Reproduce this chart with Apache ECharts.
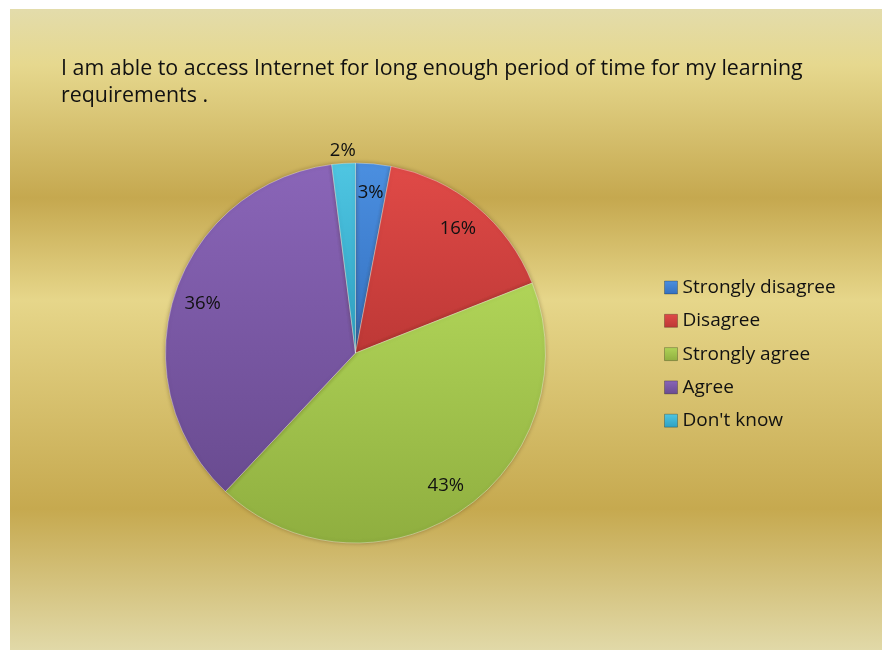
<!DOCTYPE html>
<html>
<head>
<meta charset="utf-8">
<script src="https://cdn.jsdelivr.net/npm/echarts@6/dist/echarts.min.js"></script>
<style>
  html, body { margin: 0; padding: 0; background: #ffffff; }
  #chart {
    position: absolute; left: 10px; top: 9px; width: 872px; height: 641px;
    background: linear-gradient(to bottom,
      #e3dcab 0%, #e6d88e 8.7%, #c5a84f 29.5%, #e6d68a 45.4%,
      #c6a94f 78%, #e1d9a8 100%);
  }
</style>
</head>
<body>
<div id="chart"></div>
<script>
// Survey answers and their shares (percent)
const categories = ['Strongly disagree', 'Disagree', 'Strongly agree', 'Agree', "Don't know"];
const shares = [3, 16, 43, 36, 2];
const titleText = 'I am able to access Internet for long enough period of time for my learning\nrequirements .';

// Office-style palette: light top / darker bottom for each slice
const topColors = ['#4b8fe0', '#e04a47', '#b0d458', '#8a65b8', '#4fc6e2'];
const bottomColors = ['#3470bf', '#bd3836', '#8fae3f', '#694b90', '#2ea0c2'];

function grad(i) {
  return new echarts.graphic.LinearGradient(0, 0, 0, 1, [
    { offset: 0, color: topColors[i] },
    { offset: 1, color: bottomColors[i] }
  ]);
}

const pieData = categories.map((name, i) => ({
  name, value: shares[i], itemStyle: { color: grad(i) }
}));

const FONT = '"Open Sans", Lato, sans-serif';
const R = 190;
const center = [345.5, 344];

// Labels sit on a transparent ring so they land near the rim
const labelData = categories.map((name, i) => ({
  name, value: shares[i],
  label: { show: i !== 4 }
}));
const outerLabelData = categories.map((name, i) => ({
  name, value: shares[i],
  label: { show: i === 4 }
}));

const chart = echarts.init(document.getElementById('chart'));
chart.setOption({
  backgroundColor: 'transparent',
  animation: false,
  title: {
    text: titleText,
    left: 51, top: 46, padding: 0,
    textStyle: { fontFamily: FONT, fontSize: 21.4, fontWeight: 'normal', color: '#111', lineHeight: 27 }
  },
  legend: {
    orient: 'vertical',
    left: 654, top: 269, padding: 0,
    icon: 'rect',
    itemWidth: 13, itemHeight: 13, itemGap: 14.3,
    textStyle: { fontFamily: FONT, fontSize: 19, color: '#111', lineHeight: 19 },
    data: categories.map((name, i) => ({
      name,
      itemStyle: { color: grad(i), borderColor: 'rgba(0,0,0,0.25)', borderWidth: 1 }
    }))
  },
  series: [
    {
      type: 'pie',
      center, radius: [0, R],
      startAngle: 90, clockwise: true,
      label: { show: false }, labelLine: { show: false },
      emphasis: { disabled: true },
      itemStyle: {
        borderColor: 'rgba(255,255,255,0.35)', borderWidth: 1,
        shadowBlur: 4, shadowColor: 'rgba(60,40,0,0.35)'
      },
      data: pieData
    },
    {
      type: 'pie', silent: true,
      center, radius: [R * 0.66, R],
      startAngle: 90, clockwise: true,
      itemStyle: { color: 'rgba(0,0,0,0)' },
      label: {
        position: 'inside', formatter: '{c}%',
        fontFamily: FONT, fontSize: 18.5, color: '#111'
      },
      labelLine: { show: false },
      emphasis: { disabled: true },
      data: labelData
    },
    {
      type: 'pie', silent: true,
      center, radius: [R, R * 1.1],
      startAngle: 90, clockwise: true,
      itemStyle: { color: 'rgba(0,0,0,0)' },
      label: {
        position: 'inside', formatter: '{c}%',
        fontFamily: FONT, fontSize: 18.5, color: '#111'
      },
      labelLine: { show: false },
      emphasis: { disabled: true },
      data: outerLabelData
    }
  ]
});
</script>
</body>
</html>
